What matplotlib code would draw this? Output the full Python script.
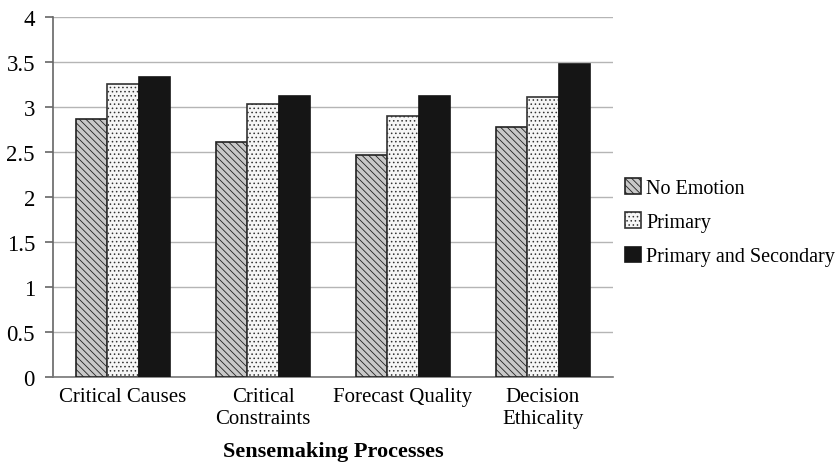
import numpy as np
import matplotlib
matplotlib.use("Agg")
import matplotlib.pyplot as plt

plt.rcParams['font.family'] = ['Liberation Serif', 'DejaVu Serif']
plt.rcParams['hatch.linewidth'] = 0.6

categories = ["Critical Causes", "Critical\nConstraints", "Forecast Quality", "Decision\nEthicality"]
no_emotion = [2.87, 2.61, 2.47, 2.78]
primary = [3.26, 3.03, 2.90, 3.11]
primary_secondary = [3.33, 3.12, 3.12, 3.48]
series_names = ["No Emotion", "Primary", "Primary and Secondary"]
y_ticks = [0, 0.5, 1, 1.5, 2, 2.5, 3, 3.5, 4]
y_tick_labels = ["0", "0.5", "1", "1.5", "2", "2.5", "3", "3.5", "4"]

fig = plt.figure(figsize=(8.4, 4.64), dpi=100)
ax = fig.add_axes([53 / 840, 1 - 378 / 464, 560 / 840, 360 / 464])

x = np.arange(len(categories))
w = 0.222

ax.bar(x - w, no_emotion, w, facecolor="#c8c8c8", edgecolor="#222222",
       hatch="\\\\\\\\\\", linewidth=1.2, label=series_names[0], zorder=3)
ax.bar(x, primary, w, facecolor="#f6f6f6", edgecolor="#333333",
       hatch="....", linewidth=1.2, label=series_names[1], zorder=3)
ax.bar(x + w, primary_secondary, w, facecolor="#151515", edgecolor="#151515",
       linewidth=1.2, label=series_names[2], zorder=3)

ax.set_xlim(-0.5, len(categories) - 0.5)
ax.set_ylim(0, 4)
ax.set_yticks(y_ticks)
ax.set_yticklabels(y_tick_labels, fontsize=16.5)
ax.set_xticks(x)
ax.set_xticklabels(categories, fontsize=15, linespacing=1.25)
ax.tick_params(axis='x', length=0, pad=7)
ax.tick_params(axis='y', length=6, color="#666666", width=1.2, pad=7)
ax.yaxis.grid(True, color="#b5b5b5", linewidth=1.0, zorder=0)
ax.set_axisbelow(True)

for s in ['top', 'right']:
    ax.spines[s].set_visible(False)
ax.spines['left'].set_color("#666666")
ax.spines['bottom'].set_color("#777777")
ax.spines['left'].set_linewidth(1.2)
ax.spines['bottom'].set_linewidth(1.2)

ax.set_xlabel("Sensemaking Processes", fontsize=16, fontweight="bold", labelpad=9)

ax.legend(loc="center left", bbox_to_anchor=(1.018, 0.43), frameon=True,
          facecolor="white", edgecolor="none", framealpha=1, fancybox=False,
          fontsize=14.5, handlelength=0.8, handleheight=0.8, handletextpad=0.25,
          labelspacing=0.72, borderaxespad=0, borderpad=0.1)

fig.savefig("out.png", dpi=100)
